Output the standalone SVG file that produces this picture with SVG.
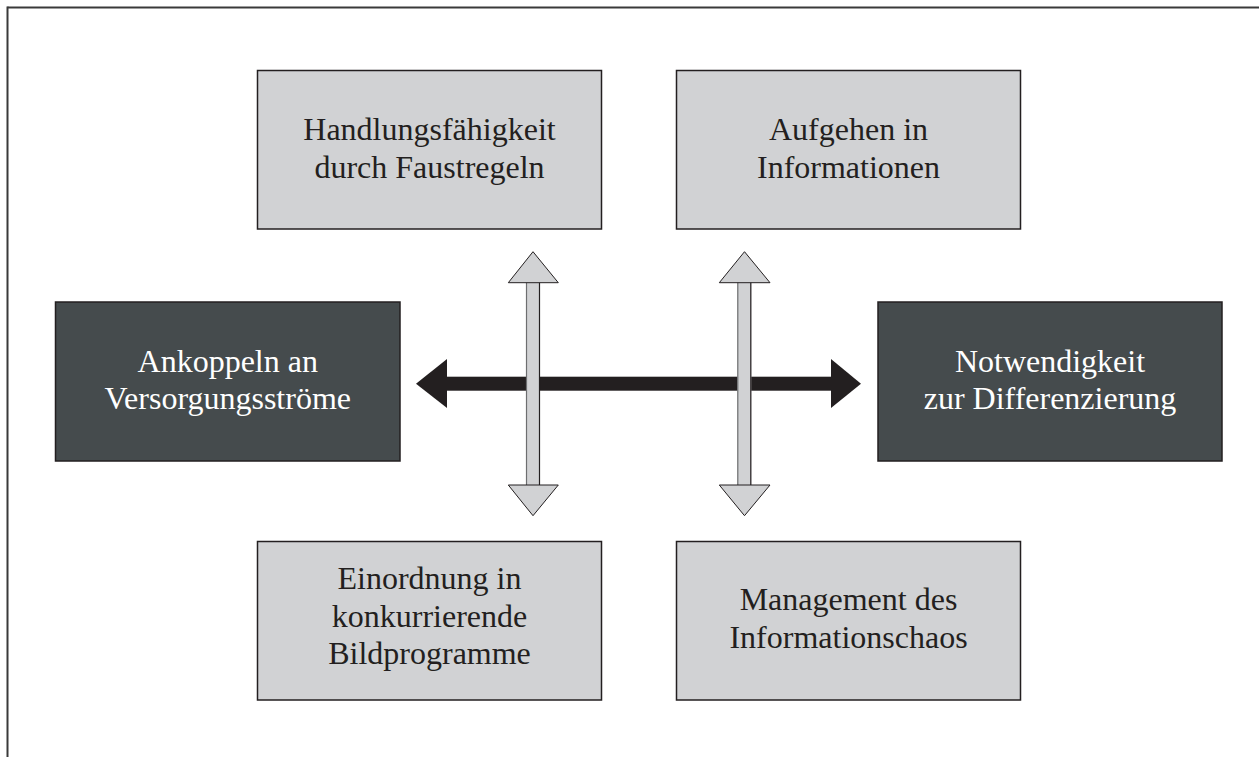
<svg xmlns="http://www.w3.org/2000/svg" width="1259" height="759" viewBox="0 0 1259 759">
<style>
.light{fill:#d1d2d4;stroke:#231f20;stroke-width:1.5}
.dark{fill:#454b4d;stroke:#231f20;stroke-width:1.5}
.t{font-family:"Liberation Serif","Times New Roman",serif;font-size:32px;text-anchor:middle;fill:#231f20}
.tw{font-family:"Liberation Serif","Times New Roman",serif;font-size:32px;text-anchor:middle;fill:#ffffff}
.head{fill:#d1d2d4;stroke:#231f20;stroke-width:1}
.shaft{fill:#d1d2d4}
</style>
<rect width="1259" height="759" fill="#ffffff"/>
<g id="frame" stroke="#3a3a3a" stroke-width="2" fill="none">
<line x1="7.5" y1="7.5" x2="1259" y2="7.5"/>
<line x1="7.5" y1="6.5" x2="7.5" y2="757"/>
</g>
<g id="connectors">
<g id="black-arrow" fill="#231f20">
<rect x="446" y="376.7" width="386" height="14"/>
<polygon points="416,383.7 447,359 447,408"/>
<polygon points="861,383.7 831,359 831,408"/>
</g>
<g id="v-arrow-left">
<rect class="shaft" x="526" y="282" width="14" height="203.5"/>
<line x1="526.5" y1="282" x2="526.5" y2="485.5" stroke="#6d6e70" stroke-width="1.2"/>
<line x1="539.5" y1="282" x2="539.5" y2="485.5" stroke="#231f20" stroke-width="1.2"/>
<polygon class="head" points="533,251.7 508.3,282.7 558.3,282.7"/>
<polygon class="head" points="533,515.7 508.3,485 558.3,485"/>
</g>
<g id="v-arrow-right">
<rect class="shaft" x="737.3" y="282" width="14" height="203.5"/>
<line x1="737.8" y1="282" x2="737.8" y2="485.5" stroke="#6d6e70" stroke-width="1.2"/>
<line x1="750.8" y1="282" x2="750.8" y2="485.5" stroke="#231f20" stroke-width="1.2"/>
<polygon class="head" points="744.5,251.7 719.3,282.7 770,282.7"/>
<polygon class="head" points="744.5,515.7 719.3,485 770,485"/>
</g>
</g>
<g id="node-handlung">
<rect class="light" x="257.5" y="70.5" width="344" height="158.5"/>
<text class="t" x="429.5" y="140">Handlungsfähigkeit</text>
<text class="t" x="429.5" y="177.5">durch Faustregeln</text>
</g>
<g id="node-aufgehen">
<rect class="light" x="676.5" y="70.5" width="344" height="158.5"/>
<text class="t" x="848.5" y="140">Aufgehen in</text>
<text class="t" x="848.5" y="177.5">Informationen</text>
</g>
<g id="node-ankoppeln">
<rect class="dark" x="55.5" y="302" width="344.5" height="159"/>
<text class="tw" x="227.75" y="371.5">Ankoppeln an</text>
<text class="tw" x="227.75" y="409">Versorgungsströme</text>
</g>
<g id="node-notwendigkeit">
<rect class="dark" x="878" y="302" width="344" height="159"/>
<text class="tw" x="1050" y="371.5">Notwendigkeit</text>
<text class="tw" x="1050" y="409">zur Differenzierung</text>
</g>
<g id="node-einordnung">
<rect class="light" x="257.5" y="541.5" width="344" height="158.5"/>
<text class="t" x="429.5" y="589">Einordnung in</text>
<text class="t" x="429.5" y="626.5">konkurrierende</text>
<text class="t" x="429.5" y="664">Bildprogramme</text>
</g>
<g id="node-management">
<rect class="light" x="676.5" y="541.5" width="344" height="158.5"/>
<text class="t" x="848.5" y="610">Management des</text>
<text class="t" x="848.5" y="647.5">Informationschaos</text>
</g>
</svg>
